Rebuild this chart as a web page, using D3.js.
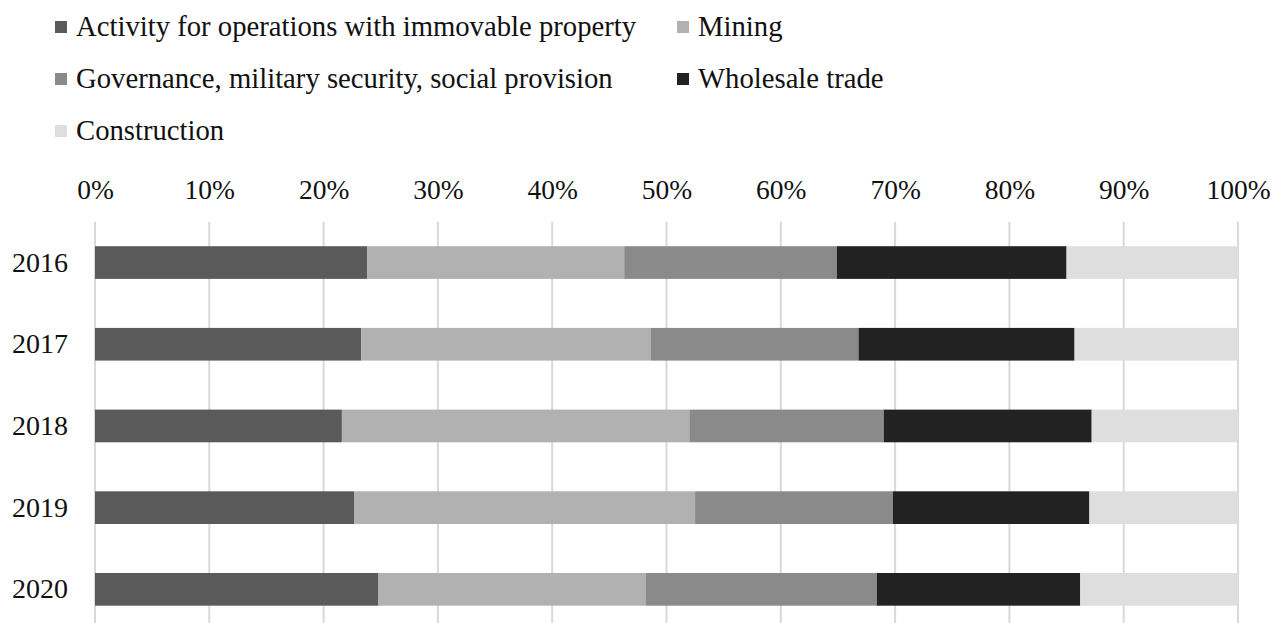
<!DOCTYPE html>
<html>
<head>
<meta charset="utf-8">
<script src="https://cdn.jsdelivr.net/npm/d3@7"></script>
<style>
  html, body { margin: 0; padding: 0; background: #ffffff; }
  svg { display: block; }
  text { font-family: "Liberation Serif", "Times New Roman", serif; fill: #111111; }
</style>
</head>
<body>
<svg id="chart" width="1273" height="623"></svg>
<script>
// Shares of sectors by year (percent of total, each row sums to 100)
const years = ["2016", "2017", "2018", "2019", "2020"];
const sectors = [
  "Activity for operations with immovable property",
  "Mining",
  "Governance, military security, social provision",
  "Wholesale trade",
  "Construction"
];
const activity     = [23.8, 23.3, 21.6, 22.7, 24.8];
const mining       = [22.5, 25.3, 30.4, 29.8, 23.4];
const governance   = [18.6, 18.2, 17.0, 17.3, 20.2];
const wholesale    = [20.1, 18.9, 18.2, 17.2, 17.8];
const construction = [15.0, 14.3, 12.8, 13.0, 13.8];
const xTicks = [0, 10, 20, 30, 40, 50, 60, 70, 80, 90, 100];

const seriesValues = [activity, mining, governance, wholesale, construction];
const colors = ["#5a5a5a", "#b1b1b1", "#8a8a8a", "#222222", "#dedede"];

// Rows for the stack layout
const rows = years.map((y, i) => {
  const r = { year: y };
  sectors.forEach((s, k) => { r[s] = seriesValues[k][i]; });
  return r;
});

const svg = d3.select("#chart");

const plotLeft = 95, plotRight = 1238, plotTop = 221.7, plotBottom = 630.2;

const x = d3.scaleLinear().domain([0, 100]).range([plotLeft, plotRight]);
const y = d3.scaleBand().domain(years).range([plotTop, plotBottom])
  .paddingInner(0.6).paddingOuter(0.3);
const color = d3.scaleOrdinal().domain(sectors).range(colors);

// Vertical gridlines
svg.append("g").attr("class", "grid")
  .selectAll("line").data(xTicks).join("line")
  .attr("x1", d => x(d)).attr("x2", d => x(d))
  .attr("y1", plotTop).attr("y2", plotBottom)
  .attr("stroke", "#d9d9d9").attr("stroke-width", 2);

// Stacked bars
const stacked = d3.stack().keys(sectors)(rows);
svg.append("g").attr("class", "bars")
  .selectAll("g").data(stacked).join("g")
  .attr("fill", d => color(d.key))
  .selectAll("rect").data(d => d).join("rect")
  .attr("x", d => x(d[0]))
  .attr("width", d => x(d[1]) - x(d[0]))
  .attr("y", d => y(d.data.year))
  .attr("height", y.bandwidth());

// Top percent axis
const topAxis = d3.axisTop(x).tickValues(xTicks).tickSize(0).tickPadding(22.5)
  .tickFormat(d => d + "%");
svg.append("g").attr("transform", `translate(0,${plotTop})`).call(topAxis)
  .call(g => g.select(".domain").remove())
  .selectAll("text").attr("font-size", 27.5).attr("fill", "#111111")
  .style("font-family", "'Liberation Serif', 'Times New Roman', serif");

// Year axis
const leftAxis = d3.axisLeft(y).tickSize(0).tickPadding(27);
svg.append("g").attr("transform", `translate(${plotLeft},0)`).call(leftAxis)
  .call(g => g.select(".domain").remove())
  .selectAll("text").attr("font-size", 28).attr("fill", "#111111")
  .style("font-family", "'Liberation Serif', 'Times New Roman', serif");

// Legend
const legendPos = [
  { x: 55, y: 36 }, { x: 677, y: 36 },
  { x: 55, y: 88 }, { x: 677, y: 88 },
  { x: 55, y: 140 }
];
const legend = svg.append("g").attr("class", "legend")
  .selectAll("g").data(sectors).join("g")
  .attr("transform", (d, i) => `translate(${legendPos[i].x},${legendPos[i].y})`);
legend.append("rect")
  .attr("x", 0).attr("y", -15).attr("width", 12).attr("height", 12)
  .attr("fill", d => color(d));
legend.append("text")
  .attr("x", 21).attr("y", 0)
  .attr("font-size", 28.7)
  .text(d => d);
</script>
</body>
</html>
